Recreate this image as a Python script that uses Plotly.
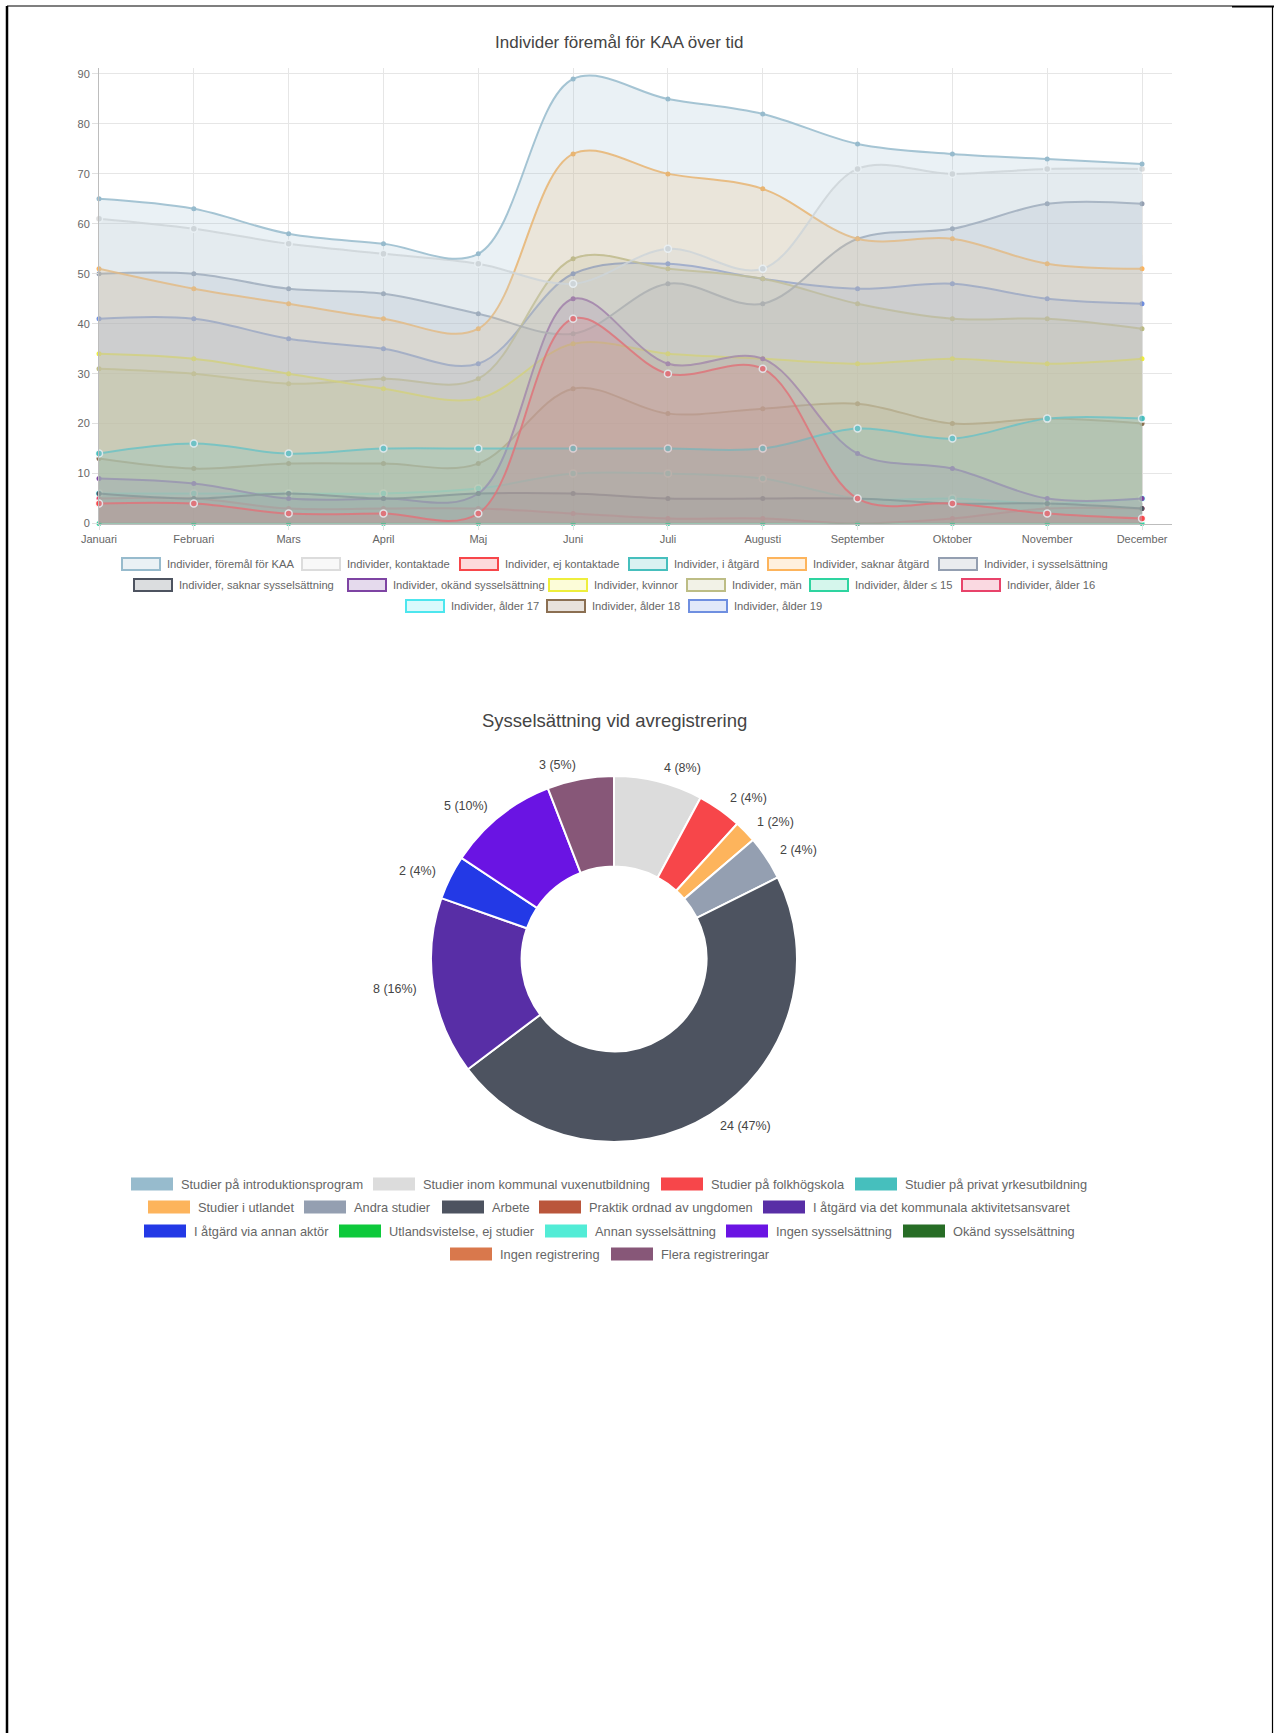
import math
import plotly.graph_objects as go

W, H = 1274, 1733
FONT = "Liberation Sans, Arial, Helvetica, sans-serif"

# ---------------- Line chart data ----------------
months = ["Januari", "Februari", "Mars", "April", "Maj", "Juni", "Juli",
          "Augusti", "September", "Oktober", "November", "December"]

kaa = [65, 63, 58, 56, 54, 89, 85, 82, 76, 74, 73, 72]
kontaktade = [61, 59, 56, 54, 52, 48, 55, 51, 71, 70, 71, 71]
ej_kontaktade = [4, 4, 2, 2, 2, 41, 30, 31, 5, 4, 2, 1]
i_atgard = [14, 16, 14, 15, 15, 15, 15, 15, 19, 17, 21, 21]
saknar_atgard = [51, 47, 44, 41, 39, 74, 70, 67, 57, 57, 52, 51]
i_syss = [50, 50, 47, 46, 42, 38, 48, 44, 57, 59, 64, 64]
saknar_syss = [6, 5, 6, 5, 6, 6, 5, 5, 5, 4, 4, 3]
okand_syss = [9, 8, 5, 5, 6, 45, 32, 33, 14, 11, 5, 5]
kvinnor = [34, 33, 30, 27, 25, 36, 34, 33, 32, 33, 32, 33]
man = [31, 30, 28, 29, 29, 53, 51, 49, 44, 41, 41, 39]
alder_15 = [0, 0, 0, 0, 0, 0, 0, 0, 0, 0, 0, 0]
alder_16 = [5, 5, 3, 3, 3, 2, 1, 1, 0, 1, 3, 3]
alder_17 = [6, 6, 6, 6, 7, 10, 10, 9, 5, 5, 4, 5]
alder_18 = [13, 11, 12, 12, 12, 27, 22, 23, 24, 20, 21, 20]
alder_19 = [41, 41, 37, 35, 32, 50, 52, 49, 47, 48, 45, 44]

series_names = [
    "Individer, föremål för KAA", "Individer, kontaktade", "Individer, ej kontaktade",
    "Individer, i åtgärd", "Individer, saknar åtgärd", "Individer, i sysselsättning",
    "Individer, saknar sysselsättning", "Individer, okänd sysselsättning",
    "Individer, kvinnor", "Individer, män", "Individer, ålder ≤ 15",
    "Individer, ålder 16", "Individer, ålder 17", "Individer, ålder 18", "Individer, ålder 19",
]
series_values = [kaa, kontaktade, ej_kontaktade, i_atgard, saknar_atgard, i_syss,
                 saknar_syss, okand_syss, kvinnor, man, alder_15, alder_16,
                 alder_17, alder_18, alder_19]
series_colors = [
    (151, 187, 205), (220, 220, 220), (247, 70, 74), (70, 191, 189), (253, 180, 92),
    (148, 159, 177), (77, 83, 96), (126, 68, 163), (238, 238, 60), (189, 189, 133),
    (46, 212, 160), (232, 67, 106), (77, 230, 238), (139, 111, 82), (111, 143, 224),
]
ring_points = {1, 2, 3, 12}

# ---------------- Donut data ----------------
pie_labels = [
    "Studier på introduktionsprogram", "Studier inom kommunal vuxenutbildning",
    "Studier på folkhögskola", "Studier på privat yrkesutbildning",
    "Studier i utlandet", "Andra studier", "Arbete", "Praktik ordnad av ungdomen",
    "I åtgärd via det kommunala aktivitetsansvaret", "I åtgärd via annan aktör",
    "Utlandsvistelse, ej studier", "Annan sysselsättning", "Ingen sysselsättning",
    "Okänd sysselsättning", "Ingen registrering", "Flera registreringar",
]
pie_values = [0, 4, 2, 0, 1, 2, 24, 0, 8, 2, 0, 0, 5, 0, 0, 3]
pie_percent = [0, 8, 4, 0, 2, 4, 47, 0, 16, 4, 0, 0, 10, 0, 0, 5]
pie_colors = ["#97BBCD", "#DCDCDC", "#F7464A", "#46BFBD", "#FDB45C", "#949FB1",
              "#4D5360", "#BA563B", "#582EA6", "#2339E6", "#0DC93B", "#52ECD6",
              "#6A14E3", "#276D26", "#D9784C", "#875778"]


def rgba(c, a):
    return "rgba(%d,%d,%d,%s)" % (c[0], c[1], c[2], a)


def px(x):
    return x / W


def py(y):
    return 1 - y / H


fig = go.Figure()

# Line/area traces (first dataset drawn on top)
for i in reversed(range(len(series_names))):
    c = series_colors[i]
    ring = i in ring_points
    fig.add_trace(go.Scatter(
        x=months, y=series_values[i], name=series_names[i],
        mode="lines+markers",
        line=dict(color=rgba(c, 0.85), width=2, shape="spline", smoothing=1.0),
        fill="tozeroy", fillcolor=rgba(c, 0.2),
        marker=dict(size=7 if ring else 5, color=rgba(c, 1),
                    line=dict(color="rgba(255,255,255,0.9)" if ring else rgba(c, 1),
                              width=1.5 if ring else 0)),
        showlegend=False, xaxis="x", yaxis="y", cliponaxis=False,
    ))

# Donut
nz = [k for k, v in enumerate(pie_values) if v > 0]
cx, cy, R = 614, 959, 183
fig.add_trace(go.Pie(
    labels=[pie_labels[k] for k in nz], values=[pie_values[k] for k in nz],
    marker=dict(colors=[pie_colors[k] for k in nz], line=dict(color="white", width=2)),
    hole=0.505, sort=False, direction="clockwise", rotation=0,
    textinfo="none", showlegend=False,
    domain=dict(x=[px(cx - R), px(cx + R)], y=[py(cy + R), py(cy - R)]),
))

shapes = []
annotations = []

# Titles
annotations.append(dict(text="Individer föremål för KAA över tid", x=px(619), y=py(42),
                        xref="paper", yref="paper", showarrow=False,
                        xanchor="center", yanchor="middle",
                        font=dict(family=FONT, size=17, color="#444")))
annotations.append(dict(text="Sysselsättning vid avregistrering", x=px(614), y=py(721),
                        xref="paper", yref="paper", showarrow=False,
                        xanchor="center", yanchor="middle",
                        font=dict(family=FONT, size=18.5, color="#444")))

# Donut value labels
total = sum(pie_values)
cum = 0
for k in nz:
    v = pie_values[k]
    mid = (cum + v / 2) / total * 2 * math.pi
    cum += v
    r_lab = 197
    lx = cx + r_lab * math.sin(mid)
    ly = cy - r_lab * math.cos(mid)
    s = math.sin(mid)
    xa = "left" if s > 0.05 else ("right" if s < -0.05 else "center")
    annotations.append(dict(text="%d (%d%%)" % (v, pie_percent[k]), x=px(lx), y=py(ly),
                            xref="paper", yref="paper", showarrow=False,
                            xanchor=xa, yanchor="middle",
                            font=dict(family=FONT, size=12.5, color="#444")))

# Line chart legend (manual, centred rows like the original)
line_rows = [
    [(0, 122), (1, 302), (2, 460), (3, 629), (4, 768), (5, 939)],
    [(6, 134), (7, 348), (8, 549), (9, 687), (10, 810), (11, 962)],
    [(12, 406), (13, 547), (14, 689)],
]
line_row_y = [564, 585, 606]
for row, yc in zip(line_rows, line_row_y):
    for idx, x0 in row:
        c = series_colors[idx]
        shapes.append(dict(type="rect", xref="paper", yref="paper",
                           x0=px(x0), x1=px(x0 + 38), y0=py(yc + 6), y1=py(yc - 6),
                           line=dict(color=rgba(c, 1), width=2), fillcolor=rgba(c, 0.2)))
        annotations.append(dict(text=series_names[idx], x=px(x0 + 43), y=py(yc),
                                xref="paper", yref="paper", showarrow=False,
                                xanchor="left", yanchor="middle",
                                font=dict(family=FONT, size=11.2, color="#666")))

# Donut legend
pie_rows = [
    [(0, 131), (1, 373), (2, 661), (3, 855)],
    [(4, 148), (5, 304), (6, 442), (7, 539), (8, 763)],
    [(9, 144), (10, 339), (11, 545), (12, 726), (13, 903)],
    [(14, 450), (15, 611)],
]
pie_row_y = [1184, 1207, 1231, 1254]
for row, yc in zip(pie_rows, pie_row_y):
    for idx, x0 in row:
        shapes.append(dict(type="rect", xref="paper", yref="paper",
                           x0=px(x0), x1=px(x0 + 42), y0=py(yc + 6.5), y1=py(yc - 6.5),
                           line=dict(width=0), fillcolor=pie_colors[idx]))
        annotations.append(dict(text=pie_labels[idx], x=px(x0 + 48), y=py(yc),
                                xref="paper", yref="paper", showarrow=False,
                                xanchor="left", yanchor="middle",
                                font=dict(family=FONT, size=12.8, color="#666")))

# Page frame
shapes.append(dict(type="line", xref="paper", yref="paper", x0=px(7), x1=px(7),
                   y0=py(6), y1=py(H), line=dict(color="black", width=2.5)))
shapes.append(dict(type="line", xref="paper", yref="paper", x0=px(7), x1=px(1232),
                   y0=py(6), y1=py(6), line=dict(color="black", width=1.2)))
shapes.append(dict(type="line", xref="paper", yref="paper", x0=px(1232), x1=px(W),
                   y0=py(6.5), y1=py(6.5), line=dict(color="black", width=2.2)))
shapes.append(dict(type="line", xref="paper", yref="paper", x0=px(1272.5), x1=px(1272.5),
                   y0=py(6), y1=py(H), line=dict(color="black", width=1.2)))

fig.update_layout(
    width=W, height=H, autosize=False,
    margin=dict(l=0, r=0, t=0, b=0, pad=0, autoexpand=False),
    paper_bgcolor="white", plot_bgcolor="white",
    showlegend=False,
    xaxis=dict(domain=[px(99), px(1172)], range=[0, 11.316], type="category",
               showgrid=True, gridcolor="#e6e6e6", gridwidth=1,
               ticks="outside", ticklen=5, tickcolor="#e0e0e0",
               showline=True, linecolor="#bdbdbd", linewidth=1, zeroline=False,
               automargin=False,
               tickfont=dict(family=FONT, size=11, color="#666"), fixedrange=True),
    yaxis=dict(domain=[py(523.5), py(68)], range=[0, 91.2],
               tickvals=[0, 10, 20, 30, 40, 50, 60, 70, 80, 90],
               showgrid=True, gridcolor="#e6e6e6", gridwidth=1,
               ticks="outside", ticklen=6, tickcolor="#e0e0e0",
               showline=True, linecolor="#bdbdbd", linewidth=1, zeroline=False,
               automargin=False,
               tickfont=dict(family=FONT, size=11, color="#666"), fixedrange=True),
    shapes=shapes, annotations=annotations,
)

fig.write_html(
    "out.html",
    config={"responsive": False, "displayModeBar": False},
    post_script="document.body.style.margin='0';document.body.style.overflow='hidden';",
)
